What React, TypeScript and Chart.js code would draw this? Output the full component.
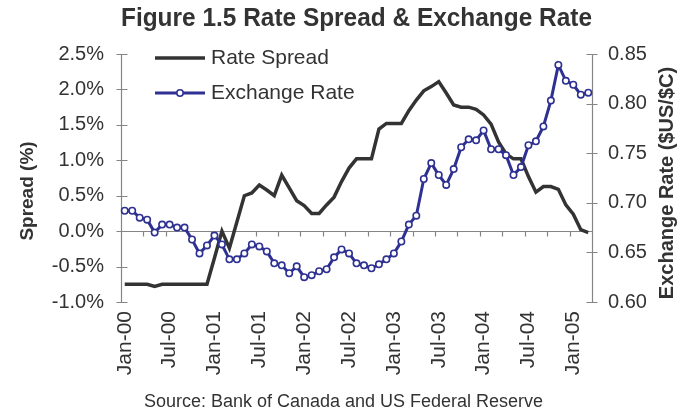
import React, { useEffect, useRef } from 'react';
import { Chart, registerables } from 'chart.js';

Chart.register(...registerables);

const categories: string[] = [
  'Jan-00', 'Feb-00', 'Mar-00', 'Apr-00', 'May-00', 'Jun-00', 'Jul-00', 'Aug-00', 'Sep-00', 'Oct-00', 'Nov-00', 'Dec-00',
  'Jan-01', 'Feb-01', 'Mar-01', 'Apr-01', 'May-01', 'Jun-01', 'Jul-01', 'Aug-01', 'Sep-01', 'Oct-01', 'Nov-01', 'Dec-01',
  'Jan-02', 'Feb-02', 'Mar-02', 'Apr-02', 'May-02', 'Jun-02', 'Jul-02', 'Aug-02', 'Sep-02', 'Oct-02', 'Nov-02', 'Dec-02',
  'Jan-03', 'Feb-03', 'Mar-03', 'Apr-03', 'May-03', 'Jun-03', 'Jul-03', 'Aug-03', 'Sep-03', 'Oct-03', 'Nov-03', 'Dec-03',
  'Jan-04', 'Feb-04', 'Mar-04', 'Apr-04', 'May-04', 'Jun-04', 'Jul-04', 'Aug-04', 'Sep-04', 'Oct-04', 'Nov-04', 'Dec-04',
  'Jan-05', 'Feb-05', 'Mar-05',
];

const rateSpread: number[] = [
  -0.75, -0.75, -0.75, -0.75, -0.78, -0.75, -0.75, -0.75, -0.75, -0.75, -0.75, -0.75,
  -0.38, 0.0, -0.24, 0.13, 0.5, 0.54, 0.65, 0.58, 0.5, 0.79, 0.61, 0.43,
  0.36, 0.25, 0.25, 0.37, 0.48, 0.7, 0.89, 1.02, 1.02, 1.02, 1.44, 1.52,
  1.52, 1.52, 1.7, 1.85, 1.98, 2.04, 2.11, 1.95, 1.78, 1.75, 1.75, 1.72,
  1.64, 1.51, 1.26, 1.09, 1.02, 1.02, 0.77, 0.55, 0.63, 0.63, 0.59, 0.37,
  0.24, 0.02, -0.02,
];

const exchangeRate: number[] = [
  0.692, 0.692, 0.685, 0.683, 0.67, 0.678, 0.678, 0.675, 0.675, 0.663, 0.649, 0.657,
  0.667, 0.658, 0.643, 0.643, 0.649, 0.658, 0.656, 0.651, 0.639, 0.637, 0.629, 0.636,
  0.625, 0.627, 0.631, 0.633, 0.645, 0.653, 0.649, 0.639, 0.637, 0.634, 0.638, 0.643,
  0.649, 0.661, 0.678, 0.687, 0.724, 0.74, 0.728, 0.718, 0.734, 0.756, 0.764, 0.763,
  0.773, 0.754, 0.754, 0.748, 0.728, 0.736, 0.758, 0.762, 0.777, 0.803, 0.839, 0.823,
  0.819, 0.809, 0.811,
];

const TITLE = 'Figure 1.5 Rate Spread & Exchange Rate';
const SOURCE = 'Source: Bank of Canada and US Federal Reserve';
const LEFT_TITLE = 'Spread (%)';
const RIGHT_TITLE = 'Exchange Rate ($US/$C)';
const SERIES_NAMES = ['Rate Spread', 'Exchange Rate'];

const FONT = '"Liberation Sans", Arial, Helvetica, sans-serif';
const TEXT = '#333333';
const AXIS = '#858585';
const SPREAD_COLOR = '#333333';
const FX_COLOR = '#2E3192';

const decor = {
  id: 'decor',
  beforeDatasetsDraw(chart: any) {
    const { ctx, chartArea: a, scales } = chart;
    const y = scales.y;
    const y1 = scales.y1;
    const n = categories.length;
    const w = (a.right - a.left) / n;
    const L = Math.round(a.left) + 0.5;
    const R = Math.round(a.right) + 0.5;
    ctx.save();
    ctx.strokeStyle = AXIS;
    ctx.lineWidth = 1.2;
    ctx.beginPath();
    ctx.moveTo(L, a.top);
    ctx.lineTo(L, a.bottom);
    y.ticks.forEach((t: any) => {
      const py = Math.round(y.getPixelForValue(t.value)) + 0.5;
      ctx.moveTo(L - 5, py);
      ctx.lineTo(L + 6, py);
    });
    ctx.moveTo(R, a.top);
    ctx.lineTo(R, a.bottom);
    y1.ticks.forEach((t: any) => {
      const py = Math.round(y1.getPixelForValue(t.value)) + 0.5;
      ctx.moveTo(R - 6, py);
      ctx.lineTo(R + 5, py);
    });
    const y0 = Math.round(y.getPixelForValue(0)) + 0.5;
    ctx.moveTo(L, y0);
    ctx.lineTo(R, y0);
    for (let k = 3; k <= n; k += 3) {
      const px = Math.round(a.left + k * w) + 0.5;
      ctx.moveTo(px, y0);
      ctx.lineTo(px, y0 + 5);
    }
    ctx.stroke();
    ctx.restore();
  },
  afterDraw(chart: any) {
    const { ctx } = chart;
    ctx.save();
    // axis titles
    ctx.fillStyle = TEXT;
    ctx.textAlign = 'center';
    ctx.textBaseline = 'middle';
    ctx.font = `bold 19px ${FONT}`;
    ctx.translate(28, 191);
    ctx.rotate(-Math.PI / 2);
    ctx.fillText(LEFT_TITLE, 0, 0);
    ctx.setTransform(1, 0, 0, 1, 0, 0);
    ctx.font = `bold 20px ${FONT}`;
    ctx.translate(667, 183);
    ctx.rotate(-Math.PI / 2);
    ctx.fillText(RIGHT_TITLE, 0, 0);
    ctx.setTransform(1, 0, 0, 1, 0, 0);

    // legend
    const x0 = 155;
    const x1 = 205;
    const rows = [58, 93];
    ctx.lineCap = 'butt';
    ctx.strokeStyle = SPREAD_COLOR;
    ctx.lineWidth = 3.5;
    ctx.beginPath();
    ctx.moveTo(x0, rows[0]);
    ctx.lineTo(x1, rows[0]);
    ctx.stroke();
    ctx.strokeStyle = FX_COLOR;
    ctx.lineWidth = 3;
    ctx.beginPath();
    ctx.moveTo(x0, rows[1]);
    ctx.lineTo(x1, rows[1]);
    ctx.stroke();
    ctx.beginPath();
    ctx.arc((x0 + x1) / 2, rows[1], 3.2, 0, Math.PI * 2);
    ctx.fillStyle = '#ffffff';
    ctx.fill();
    ctx.lineWidth = 1.6;
    ctx.stroke();
    ctx.fillStyle = TEXT;
    ctx.textAlign = 'left';
    ctx.textBaseline = 'middle';
    ctx.font = `21px ${FONT}`;
    ctx.fillText(SERIES_NAMES[0], 211, rows[0]);
    ctx.fillText(SERIES_NAMES[1], 211, rows[1]);
    ctx.restore();
  },
};

export default function App() {
  const ref = useRef<HTMLCanvasElement | null>(null);

  useEffect(() => {
    if (!ref.current) return;
    const chart = new Chart(ref.current, {
      type: 'line',
      data: {
        labels: categories,
        datasets: [
          {
            label: SERIES_NAMES[0],
            data: rateSpread,
            yAxisID: 'y',
            borderColor: SPREAD_COLOR,
            borderWidth: 3.5,
            pointRadius: 0,
            tension: 0,
            order: 1,
          },
          {
            label: SERIES_NAMES[1],
            data: exchangeRate,
            yAxisID: 'y1',
            borderColor: FX_COLOR,
            borderWidth: 3,
            pointRadius: 3.2,
            pointBackgroundColor: '#ffffff',
            pointBorderColor: FX_COLOR,
            pointBorderWidth: 1.6,
            tension: 0,
            order: 0,
          },
        ],
      },
      options: {
        responsive: false,
        animation: false,
        layout: { padding: 0 },
        plugins: {
          legend: { display: false },
          tooltip: { enabled: false },
          title: {
            display: true,
            fullSize: false,
            text: TITLE,
            color: TEXT,
            font: { family: FONT, size: 26, weight: 'bold', lineHeight: 1.2 },
            padding: { top: 3.4, bottom: 19.4 },
          },
          subtitle: {
            display: true,
            position: 'bottom',
            text: SOURCE,
            color: TEXT,
            font: { family: FONT, size: 18, lineHeight: 1.2 },
            padding: { top: 0, bottom: 1.2 },
          },
        },
        scales: {
          x: {
            type: 'category',
            offset: true,
            grid: { display: false, drawTicks: false },
            border: { display: false },
            ticks: {
              autoSkip: false,
              maxRotation: 90,
              minRotation: 90,
              padding: 9,
              color: TEXT,
              font: { family: FONT, size: 21 },
              callback: (_v: any, i: number) => (i % 6 === 0 ? categories[i] : ''),
            },
            afterFit: (s: any) => {
              s.height = 414 - 302 - 22.8;
            },
          },
          y: {
            position: 'left',
            min: -1,
            max: 2.5,
            grid: { display: false, drawTicks: false },
            border: { display: false },
            ticks: {
              stepSize: 0.5,
              padding: 17,
              color: TEXT,
              font: { family: FONT, size: 20 },
              callback: (v: any) => Number(v).toFixed(1) + '%',
            },
            afterFit: (s: any) => {
              s.width = 121;
            },
          },
          y1: {
            position: 'right',
            min: 0.6,
            max: 0.85,
            grid: { display: false, drawTicks: false },
            border: { display: false },
            ticks: {
              stepSize: 0.05,
              padding: 16,
              color: TEXT,
              font: { family: FONT, size: 20 },
              callback: (v: any) => Number(v).toFixed(2),
            },
            afterFit: (s: any) => {
              s.width = 95;
            },
          },
        },
      },
      plugins: [decor],
    } as any);
    return () => chart.destroy();
  }, []);

  return (
    <div style={{ position: 'absolute', left: 0, top: 0, width: 687, height: 414, background: '#ffffff' }}>
      <canvas ref={ref} width={687} height={414} style={{ display: 'block' }} />
    </div>
  );
}
